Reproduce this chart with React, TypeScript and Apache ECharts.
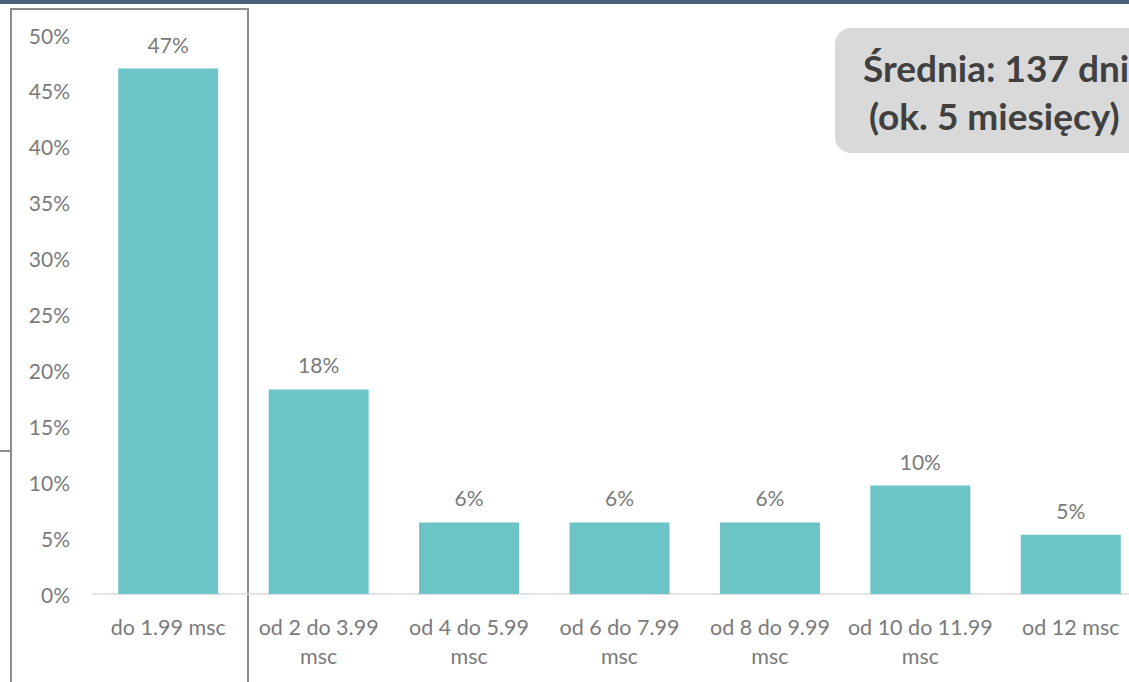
import React, { useEffect, useRef } from "react";
import * as echarts from "echarts";

const categories = [
  "do 1.99 msc",
  "od 2 do 3.99\nmsc",
  "od 4 do 5.99\nmsc",
  "od 6 do 7.99\nmsc",
  "od 8 do 9.99\nmsc",
  "od 10 do 11.99\nmsc",
  "od 12 msc",
];
const shares = [47.0, 18.3, 6.4, 6.4, 6.4, 9.7, 5.3];
const shareLabels = ["47%", "18%", "6%", "6%", "6%", "10%", "5%"];
const boxLine1 = "Średnia: 137 dni";
const boxLine2 = "(ok. 5 miesięcy)";

export default function App() {
  const ref = useRef<HTMLDivElement>(null);
  useEffect(() => {
    if (!ref.current) return;
    const chart = echarts.init(ref.current, undefined, { renderer: "svg" });
    const font = "Lato, 'Open Sans', sans-serif";
    chart.setOption({
      animation: false,
      backgroundColor: "#ffffff",
      grid: { left: 93, right: 4, top: 35, bottom: 88, containLabel: false },
      xAxis: {
        type: "category",
        data: categories,
        axisLine: { show: true, lineStyle: { color: "#d9d9d9", width: 1.5 } },
        axisTick: { show: false },
        axisLabel: {
          color: "#7a7a7a",
          fontFamily: font,
          fontSize: 21.5,
          lineHeight: 29,
          margin: 18,
          interval: 0,
        },
      },
      yAxis: {
        type: "value",
        min: 0,
        max: 50,
        interval: 5,
        axisLine: { show: false },
        axisTick: { show: false },
        splitLine: { show: false },
        axisLabel: {
          color: "#7a7a7a",
          fontFamily: font,
          fontSize: 21,
          margin: 23,
          formatter: (v: number) => `${v}%`,
        },
      },
      series: [
        {
          type: "bar",
          data: shares,
          barWidth: 100,
          itemStyle: { color: "#6cc4c6" },
          label: {
            show: true,
            position: "top",
            distance: 14,
            color: "#7a7a7a",
            fontFamily: font,
            fontSize: 21,
            formatter: (p: any) => shareLabels[p.dataIndex],
          },
        },
      ],
      graphic: [
        {
          type: "rect",
          shape: { x: 0, y: 0, width: 1150, height: 4 },
          style: { fill: "#44607a" },
          silent: true,
        },
        {
          type: "rect",
          shape: { x: 11, y: 9, width: 237, height: 700 },
          style: { fill: "none", stroke: "#8c8c8c", lineWidth: 2 },
          silent: true,
        },
        {
          type: "line",
          shape: { x1: 0, y1: 451, x2: 11, y2: 451 },
          style: { stroke: "#8c8c8c", lineWidth: 2 },
          silent: true,
        },
        {
          type: "rect",
          shape: { x: 835, y: 28, width: 340, height: 125, r: 16 },
          style: { fill: "#d9d9d9" },
          silent: true,
        },
        {
          type: "text",
          x: 863,
          y: 67,
          style: {
            text: boxLine1,
            fill: "#404040",
            font: `bold 37px ${font}`,
            textVerticalAlign: "middle",
          },
          silent: true,
        },
        {
          type: "text",
          x: 869,
          y: 115,
          style: {
            text: boxLine2,
            fill: "#404040",
            font: `bold 37px ${font}`,
            textVerticalAlign: "middle",
          },
          silent: true,
        },
      ],
    });
    return () => chart.dispose();
  }, []);
  return (
    <div
      style={{
        position: "fixed",
        left: 0,
        top: 0,
        width: 1129,
        height: 682,
        overflow: "hidden",
      }}
    >
      <div ref={ref} style={{ width: 1150, height: 682 }} />
    </div>
  );
}
